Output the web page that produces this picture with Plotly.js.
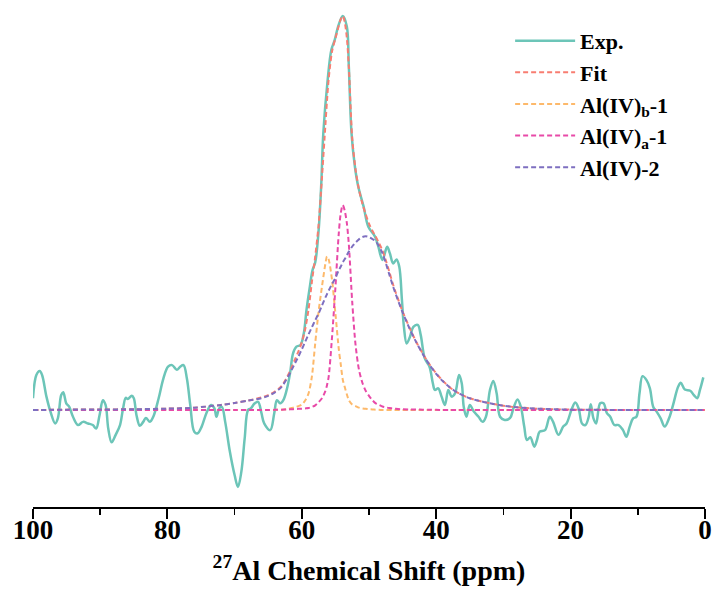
<!DOCTYPE html>
<html>
<head>
<meta charset="utf-8">
<script src="https://cdn.plot.ly/plotly-3.0.1.min.js"></script>
<style>html,body{margin:0;padding:0;background:#fff;}#chart{width:713px;height:589px;}</style>
</head>
<body>
<div id="chart"></div>
<script>
// Experimental spectrum (ppm, intensity a.u.)
var expX = [100.0,99.5,99.0,98.65,98.0,97.4,96.7,96.3,95.8,95.5,95.05,94.6,94.05,93.3,92.55,91.8,91.1,90.6,90.1,89.6,89.2,88.8,88.3,87.7,87.05,86.6,86.2,85.9,85.3,85.0,84.6,84.1,83.6,83.2,82.6,82.1,81.3,80.6,79.9,79.3,78.6,78.1,77.6,77.1,76.6,76.0,75.5,74.9,74.2,73.5,73.0,72.7,72.3,71.9,71.4,70.7,70.0,69.5,69.0,68.5,68.0,67.6,67.0,66.5,66.0,65.6,64.7,64.1,63.7,63.2,62.75,62.25,61.75,61.3,60.8,60.2,59.7,59.3,58.8,58.4,58.0,57.5,57.1,56.8,56.2,55.6,55.1,54.6,53.9,53.3,53.0,52.6,52.1,51.6,50.8,50.1,49.1,48.6,48.0,47.3,46.9,46.4,45.9,45.5,45.1,44.8,44.4,43.9,43.4,42.75,42.3,41.7,41.0,40.5,40.2,39.7,39.2,38.7,38.2,37.7,37.2,36.6,36.2,35.9,35.5,35.0,34.4,33.7,33.1,32.6,32.0,31.5,31.0,30.5,29.8,29.0,28.5,27.9,27.4,26.9,26.5,26.0,25.4,25.0,24.6,23.8,23.1,22.6,21.8,21.1,20.6,19.8,19.3,18.8,18.3,17.8,17.3,17.0,16.6,16.2,15.6,15.1,14.6,14.1,13.5,12.85,12.2,11.7,11.2,10.7,10.2,9.75,9.3,8.7,8.2,7.7,7.2,6.6,6.0,5.35,4.75,4.0,3.6,3.0,2.2,1.65,1.15,0.75,0.25];
var expY = [3.0,8.9,9.9,8.9,3.4,-0.4,-3.4,-2.1,3.8,4.5,1.7,0.8,-1.7,-3.8,-3.0,-3.4,-3.8,-4.7,-1.3,2.5,1.3,-4.7,-8.2,-6.3,-3.8,0.4,3.1,2.8,3.6,3.0,-1.3,-4.0,-3.0,-2.0,-3.0,-1.7,3.0,8.0,11.0,11.4,10.2,11.0,11.4,8.0,1.3,-5.5,-5.9,-4.2,-0.8,1.3,0.4,-1.7,0.4,0.8,-3.0,-10.6,-16.5,-19.5,-15.7,-7.2,0.0,0.4,1.7,2.1,-0.8,-3.4,-5.1,-0.8,2.5,1.7,2.5,5.1,9.3,14.4,16.1,16.5,19.5,25.4,31.3,35.5,37.5,45.5,57.5,70.2,82.9,91.4,93.9,97.3,100.0,97.3,87.1,70.2,61.8,56.7,51.6,46.5,44.0,41.4,38.1,41.4,39.8,37.2,38.2,36.4,27.9,21.1,16.9,18.6,21.1,21.6,19.0,13.1,11.0,6.8,5.1,5.5,3.4,1.3,5.1,3.4,4.2,8.9,6.8,0.8,-1.7,1.3,-0.4,-1.7,-3.0,-1.7,5.1,7.4,4.2,-1.7,-2.5,-2.0,0.5,2.7,0.8,-4.2,-7.6,-6.9,-9.3,-7.6,-5.5,-5.1,-1.7,-3.0,-6.3,-4.2,-3.4,0.4,1.9,0.4,-3.4,-3.8,-1.7,1.5,-2.1,-3.4,1.7,1.7,-0.8,-1.7,-3.8,-3.8,-5.1,-6.8,-4.2,-2.1,-1.7,4.2,8.6,7.6,5.5,0.8,-0.4,-2.1,-4.2,-2.1,1.3,5.9,6.9,5.2,4.9,3.8,3.0,5.1,8.3];

// Fitted curves on a common ppm grid
var fitX = [100,95,90,85,80,76,72,70,68,66,65,64,63,62,61.5,61,60.5,60,59.5,59,58.5,58,57.5,57,56.5,56.25,56,55.5,55,54.5,54.2,53.9,53.6,53.3,53,52.5,52,51.5,51,50.5,50,49.5,49,48.5,48,47.5,47,46.5,46,45,44,43,42,41,40,39,38,37,36,35,34,32,30,28,25,22,20,15,10,5,0];
var fitTotal = [0,0.1,0.15,0.2,0.35,0.6,1.3,1.8,2.4,3.2,3.8,4.7,6.1,9.0,10.9,12.9,14.9,17.2,20.5,25.5,32.5,39.0,47.0,59.0,72.0,78.5,84.0,91.0,94.3,97.5,99.2,100.0,98.3,94.5,87.0,69.0,61.0,56.0,52.5,49.7,47.3,45.5,44.0,42.3,40.5,38.0,35.2,32.3,29.7,25.0,21.0,17.4,14.3,11.6,9.3,7.4,5.8,4.6,3.7,3.0,2.5,1.7,1.1,0.7,0.35,0.2,0.1,0.05,0,0,0];
var alIVb1 = [0,0,0,0,0,0,0,0,0,0,0,0.05,0.1,0.3,0.5,0.7,1.0,1.4,2.4,4.2,8.5,17.0,25.0,31.3,37.0,39.0,38.2,33.0,24.5,15.5,11.5,7.7,5.8,4.0,2.5,1.4,1.0,0.6,0.4,0.3,0.2,0.15,0.1,0.05,0,0,0,0,0,0,0,0,0,0,0,0,0,0,0,0,0,0,0,0,0,0,0,0,0,0,0];
var alIVa1 = [0,0,0,0,0,0,0,0,0,0,0,0.05,0.1,0.15,0.2,0.25,0.3,0.35,0.42,0.5,0.8,1.2,2.0,3.0,4.8,6.3,8.5,18.5,31.0,44.8,50.0,52.0,50.5,47.5,42.0,27.5,16.5,10.3,7.0,4.9,3.6,2.5,1.7,1.3,0.9,0.7,0.5,0.4,0.3,0.2,0.15,0.12,0.1,0.07,0.05,0,0,0,0,0,0,0,0,0,0,0,0,0,0,0,0];
var alIV2 = [0,0.1,0.15,0.2,0.35,0.6,1.3,1.8,2.4,3.0,3.6,4.5,5.9,8.6,10.2,11.9,13.6,15.4,17.3,19.2,21.0,22.8,24.5,26.5,28.5,29.4,30.3,32.0,33.5,35.5,36.4,37.5,38.3,39.3,40.2,41.5,42.5,43.3,43.9,44.1,43.9,43.4,42.8,41.5,39.8,37.3,34.5,31.8,29.3,24.8,20.8,17.3,14.2,11.5,9.2,7.3,5.8,4.6,3.7,3.0,2.5,1.7,1.1,0.7,0.35,0.2,0.1,0.05,0,0,0];

var names = ['Exp.', 'Fit', 'Al(IV)<sub>b</sub>-1', 'Al(IV)<sub>a</sub>-1', 'Al(IV)-2'];
var colors = ['#6cc5b8', '#f87d71', '#fdb96b', '#e84aa8', '#7e6fc0'];

var dashStyle = '5px,3px';
var traces = [
  {x: expX, y: expY, name: names[0], mode: 'lines', line: {color: colors[0], width: 2.5, shape: 'spline', smoothing: 1}},
  {x: fitX, y: fitTotal, name: names[1], mode: 'lines', line: {color: colors[1], width: 2, dash: dashStyle, shape: 'spline', smoothing: 0.8}},
  {x: fitX, y: alIVb1, name: names[2], mode: 'lines', line: {color: colors[2], width: 2, dash: dashStyle, shape: 'spline', smoothing: 0.8}},
  {x: fitX, y: alIVa1, name: names[3], mode: 'lines', line: {color: colors[3], width: 2, dash: dashStyle, shape: 'spline', smoothing: 0.8}},
  {x: fitX, y: alIV2, name: names[4], mode: 'lines', line: {color: colors[4], width: 2, dash: dashStyle, shape: 'spline', smoothing: 0.8}}
];

var serif = '"Times New Roman", "Liberation Serif", serif';
var layout = {
  width: 713, height: 589,
  margin: {l: 33, r: 8, t: 10, b: 82},
  paper_bgcolor: '#fff', plot_bgcolor: '#fff',
  showlegend: true,
  legend: {
    x: 0.71, y: 0.98, xanchor: 'left', yanchor: 'top',
    font: {family: serif, size: 22, color: '#000', weight: 'bold'},
    bgcolor: 'rgba(0,0,0,0)', itemwidth: 60, tracegroupgap: 0
  },
  xaxis: {
    range: [100, 0], showgrid: false, zeroline: false,
    showline: true, linecolor: '#000', linewidth: 2,
    ticks: 'outside', tickcolor: '#000', ticklen: 10, tickwidth: 2,
    dtick: 20, tick0: 0, ticklabelstandoff: -12,
    tickfont: {family: serif, size: 27, color: '#000', weight: 'bold'},
    minor: {dtick: 10, ticks: 'outside', ticklen: 6, tickwidth: 1.5, tickcolor: '#000', showgrid: false},
    title: {text: '<sup>27</sup>Al Chemical Shift (ppm)', font: {family: serif, size: 28, color: '#000', weight: 'bold'}, standoff: 16}
  },
  yaxis: {
    range: [-24.6, 101.5], visible: false, showgrid: false, zeroline: false
  }
};

Plotly.newPlot('chart', traces, layout, {displayModeBar: false, staticPlot: true});
</script>
</body>
</html>
